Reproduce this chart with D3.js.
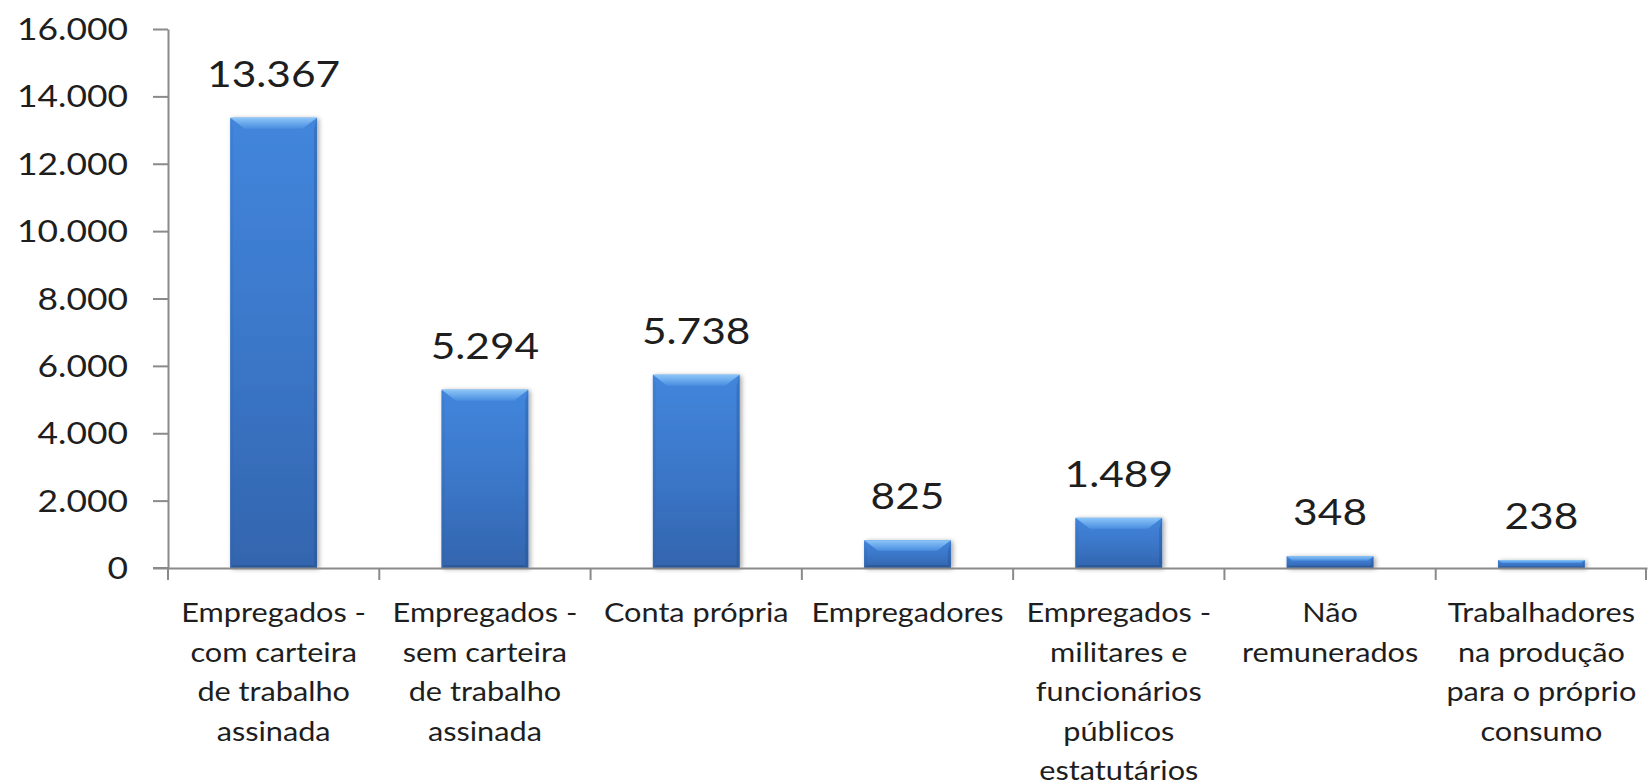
<!DOCTYPE html>
<html>
<head>
<meta charset="utf-8">
<script src="https://cdn.jsdelivr.net/npm/d3@7"></script>
<style>
html,body{margin:0;padding:0;background:#fff;}
svg{display:block;}
text{font-family:Lato,"Open Sans",sans-serif;fill:#1e1e1e;}
</style>
</head>
<body>
<svg id="chart" width="1650" height="784"></svg>
<script>
const categories = [
  ["Empregados -", "com carteira", "de trabalho", "assinada"],
  ["Empregados -", "sem carteira", "de trabalho", "assinada"],
  ["Conta própria"],
  ["Empregadores"],
  ["Empregados -", "militares e", "funcionários", "públicos", "estatutários"],
  ["Não", "remunerados"],
  ["Trabalhadores", "na produção", "para o próprio", "consumo"]
];
const values = [13367, 5294, 5738, 825, 1489, 348, 238];
const yTicks = [0, 2000, 4000, 6000, 8000, 10000, 12000, 14000, 16000];

const W = 1650, H = 784;
const margin = {left: 168, right: 3, top: 29, bottom: 216};
const SX = 1.18; // horizontal stretch of text, as in the reference

const ptBR = d3.formatLocale({decimal: ",", thousands: ".", grouping: [3], currency: ["R$", ""]});
const fmt = ptBR.format(",d");

const svg = d3.select("#chart");
const ids = categories.map((c, i) => "c" + i);

const x = d3.scaleBand().domain(ids).range([margin.left, W - margin.right]).paddingInner(0.59).paddingOuter(0.295);
const xb = d3.scaleBand().domain(ids).range([margin.left, W - margin.right]).padding(0);
const y = d3.scaleLinear().domain([0, 16000]).range([H - margin.bottom, margin.top]);

// defs
const defs = svg.append("defs");
function grad(id, stops, x1, y1, x2, y2) {
  const g = defs.append("linearGradient").attr("id", id)
    .attr("x1", x1).attr("y1", y1).attr("x2", x2).attr("y2", y2);
  stops.forEach(s => g.append("stop").attr("offset", s[0]).attr("stop-color", s[1]));
}
grad("body", [[0, "#4286dc"], [0.5, "#3b77c9"], [1, "#3365ae"]], 0, 0, 0, 1);
grad("topB", [[0, "#8cc6f8"], [0.5, "#6aa9ec"], [1, "#4a8edf"]], 0, 0, 0, 1);
grad("leftB", [[0, "#3f80d4"], [1, "#3164ac"]], 0, 0, 0, 1);
grad("rightB", [[0, "#3774c6"], [1, "#2c5ca0"]], 0, 0, 0, 1);
const f = defs.append("filter").attr("id", "shadow").attr("x", "-20%").attr("y", "-20%").attr("width", "140%").attr("height", "140%");
f.append("feGaussianBlur").attr("in", "SourceAlpha").attr("stdDeviation", 2.5);
f.append("feOffset").attr("dx", 2).attr("dy", 1).attr("result", "o");
f.append("feComponentTransfer").append("feFuncA").attr("type", "linear").attr("slope", 0.35);
const fm = f.append("feMerge");
fm.append("feMergeNode");
fm.append("feMergeNode").attr("in", "SourceGraphic");

// y axis
const yAxis = d3.axisLeft(y).tickValues(yTicks).tickSize(15).tickSizeOuter(0).tickFormat(() => "");
const gy = svg.append("g").attr("transform", `translate(${margin.left},0)`).call(yAxis);
gy.select(".domain").attr("stroke", "#8a8a8a").attr("stroke-width", 2);
gy.selectAll(".tick line").attr("stroke", "#8a8a8a").attr("stroke-width", 2);
yTicks.forEach(t => {
  svg.append("text")
    .attr("transform", `translate(128,${y(t) + 11}) scale(${SX},1)`)
    .attr("text-anchor", "end")
    .attr("font-size", 30)
    .attr("fill", "#222")
    .text(fmt(t));
});

// bars
const bars = svg.append("g").attr("filter", "url(#shadow)");
values.forEach((v, i) => {
  const x0 = x(ids[i]), x1 = x0 + x.bandwidth();
  const y0 = y(v), y1 = y(0);
  const h = y1 - y0;
  const t = Math.min(11, h * 0.38);
  const s = Math.min(3, h * 0.2);
  const d = t * 1.3;
  const g = bars.append("g");
  g.append("rect").attr("x", x0).attr("y", y0).attr("width", x1 - x0).attr("height", h).attr("fill", "url(#body)");
  const pts = a => a.map(p => p.join(",")).join(" ");
  g.append("polygon").attr("points", pts([[x0, y0], [x0 + s, y0 + t], [x0 + s, y1 - s], [x0, y1]])).attr("fill", "url(#leftB)");
  g.append("polygon").attr("points", pts([[x1, y0], [x1 - s, y0 + t], [x1 - s, y1 - s], [x1, y1]])).attr("fill", "url(#rightB)");
  g.append("polygon").attr("points", pts([[x0, y1], [x0 + s, y1 - s], [x1 - s, y1 - s], [x1, y1]])).attr("fill", "#2b5a9c");
  g.append("polygon").attr("points", pts([[x0, y0], [x1, y0], [x1 - d, y0 + t], [x0 + d, y0 + t]])).attr("fill", "url(#topB)");
});

// value labels
values.forEach((v, i) => {
  const cx = x(ids[i]) + x.bandwidth() / 2;
  svg.append("text")
    .attr("transform", `translate(${cx},${y(v) - 31}) scale(${SX},1)`)
    .attr("text-anchor", "middle")
    .attr("font-size", 36)
    .attr("fill", "#222")
    .text(fmt(v));
});

// x axis
const xAxis = d3.axisBottom(xb).tickSize(0).tickSizeOuter(0).tickFormat(() => "");
const gx = svg.append("g").attr("transform", `translate(0,${y(0)})`).call(xAxis);
gx.select(".domain").attr("stroke", "#8a8a8a").attr("stroke-width", 2);
svg.append("line").attr("x1", 153).attr("x2", margin.left).attr("y1", y(0)).attr("y2", y(0)).attr("stroke", "#8a8a8a").attr("stroke-width", 2);
const bounds = ids.map(d => xb(d)).concat([xb.range()[1] - 1]);
svg.append("g").selectAll("line").data(bounds).join("line")
  .attr("x1", d => d).attr("x2", d => d)
  .attr("y1", y(0)).attr("y2", y(0) + 12)
  .attr("stroke", "#8a8a8a").attr("stroke-width", 2);

// category labels
categories.forEach((lines, i) => {
  const cx = xb(ids[i]) + xb.bandwidth() / 2;
  lines.forEach((ln, j) => {
    svg.append("text")
      .attr("transform", `translate(${cx},${622 + j * 39.5}) scale(${SX},1)`)
      .attr("text-anchor", "middle")
      .attr("font-size", 26)
      .attr("fill", "#2a2a2a")
      .text(ln);
  });
});
</script>
</body>
</html>
